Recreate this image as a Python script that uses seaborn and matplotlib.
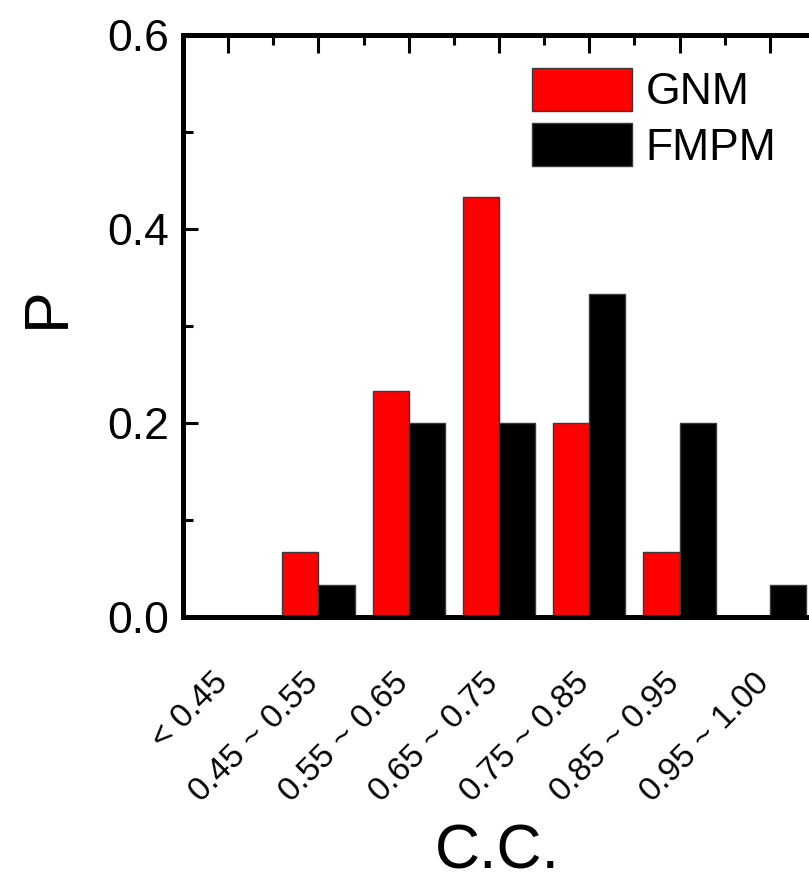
import matplotlib
matplotlib.use("Agg")
import matplotlib.pyplot as plt
import matplotlib.transforms as mtransforms
from matplotlib.ticker import FixedLocator, MultipleLocator
import numpy as np
import pandas as pd
import seaborn as sns

# Correlation-coefficient bins and the fraction of cases falling in each
categories = ["< 0.45", "0.45 ~ 0.55", "0.55 ~ 0.65", "0.65 ~ 0.75",
              "0.75 ~ 0.85", "0.85 ~ 0.95", "0.95 ~ 1.00"]
gnm_p = [0.0, 0.0667, 0.2333, 0.4333, 0.2, 0.0667, 0.0]
fmpm_p = [0.0, 0.0333, 0.2, 0.2, 0.3333, 0.2, 0.0333]
series = ["GNM", "FMPM"]
colors = {"GNM": "#ff0000", "FMPM": "#000000"}

df = pd.DataFrame({
    "cc": categories * 2,
    "P": gnm_p + fmpm_p,
    "model": ["GNM"] * len(categories) + ["FMPM"] * len(categories),
})

sns.set_theme(style="ticks")
plt.rcParams["font.family"] = ["Liberation Sans", "DejaVu Sans"]
for key in ("text.color", "axes.labelcolor", "xtick.color", "ytick.color"):
    plt.rcParams[key] = "black"

W, H = 809, 881
fig = plt.figure(figsize=(W / 100, H / 100), dpi=100)
left, right, top, bottom = 183, 815, 35, 617
ax = fig.add_axes([left / W, 1 - bottom / H, (right - left) / W, (bottom - top) / H])

sns.barplot(data=df, x="cc", y="P", hue="model", hue_order=series,
            order=categories, palette=colors, width=0.8, saturation=1,
            edgecolor="#3a3a3a", linewidth=1.0, ax=ax)

ax.set_xlim(-0.5, len(categories) - 0.5)
ax.set_ylim(0, 0.6)

# y axis: majors every 0.2, minors every 0.1, all pointing inward
ax.yaxis.set_major_locator(MultipleLocator(0.2))
ax.yaxis.set_minor_locator(MultipleLocator(0.1))
ax.set_yticklabels([f"{v:.1f}" for v in ax.get_yticks()])
ax.tick_params(axis="y", which="major", direction="in", length=11, width=2.2,
               labelsize=32, pad=10, right=False)
ax.tick_params(axis="y", which="minor", direction="in", length=7, width=2.2,
               right=False)

# x axis: ticks only along the top edge, labels below
ax.xaxis.set_minor_locator(FixedLocator(np.arange(0.5, len(categories) - 0.5, 1.0)))
ax.tick_params(axis="x", which="major", direction="in", length=13, width=2.2,
               bottom=False, top=True, labelbottom=True, labeltop=False, pad=44)
ax.tick_params(axis="x", which="minor", direction="in", length=7, width=2.2,
               bottom=False, top=True)
ax.set_xticks(range(len(categories)))
ax.set_xticklabels(categories, rotation=45, ha="right", va="center",
                   rotation_mode="anchor", fontsize=24)
shift = mtransforms.ScaledTranslation(-5 / 100, 0, fig.dpi_scale_trans)
for lbl in ax.get_xticklabels():
    lbl.set_transform(lbl.get_transform() + shift)

for s in ax.spines.values():
    s.set_linewidth(3.6)
    s.set_color("black")

ax.set_xlabel("C.C.", fontsize=45)
ax.xaxis.set_label_coords((497 - left) / (right - left), -(852 - bottom) / (bottom - top))
ax.xaxis.label.set_va("center")
ax.set_ylabel("P", fontsize=45)
ax.yaxis.set_label_coords(-(left - 47) / (right - left), (bottom - 307) / (bottom - top))
ax.yaxis.label.set_va("center")

handles, labels = ax.get_legend_handles_labels()
ax.legend(handles, labels, frameon=False, fontsize=32,
          loc="upper left", bbox_to_anchor=(532 / W, 1 - 68 / H),
          bbox_transform=fig.transFigure, borderpad=0, borderaxespad=0,
          handlelength=2.25, handleheight=1.1, handletextpad=0.3,
          labelspacing=0.22)

fig.savefig("out.png", dpi=100)
